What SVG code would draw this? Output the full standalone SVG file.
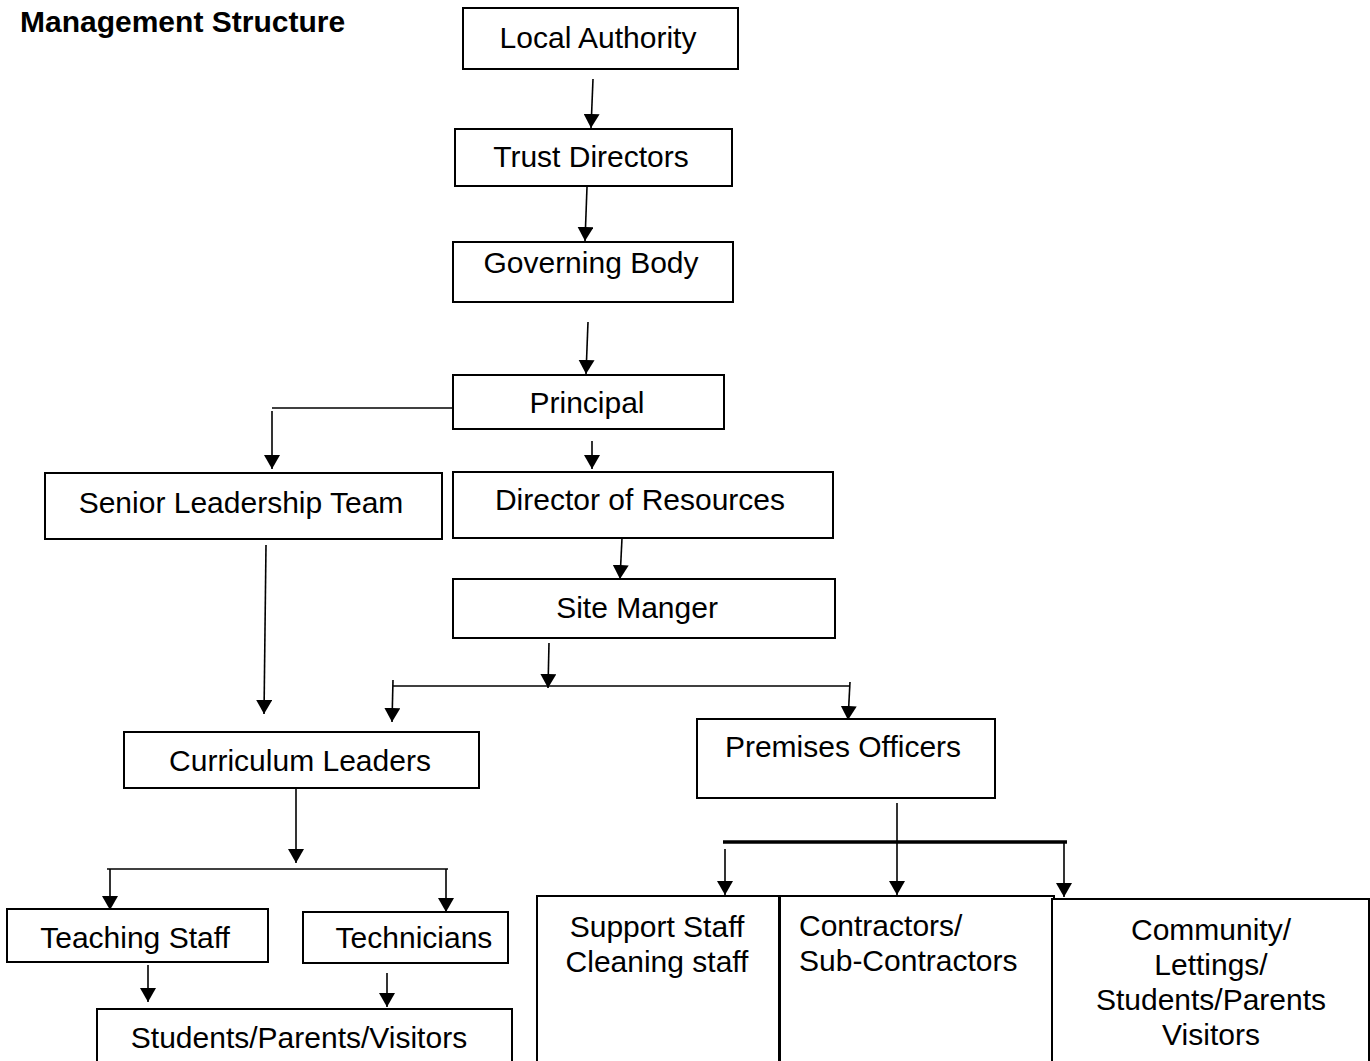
<svg xmlns="http://www.w3.org/2000/svg" width="1370" height="1061" viewBox="0 0 1370 1061">
<defs>
<marker id="ah" markerUnits="userSpaceOnUse" markerWidth="15" markerHeight="16" refX="14" refY="8" orient="auto">
<path d="M0,0 L14,8 L0,16 z" fill="#000"/>
</marker>
<style>
.box{fill:#fff;stroke:#000;stroke-width:2}
.t{font-family:"Liberation Sans",Arial,sans-serif;font-size:30px;fill:#000}
.c{text-anchor:middle}
.ln{fill:none;stroke:#000;stroke-width:1.6}
.ar{fill:none;stroke:#000;stroke-width:1.6;marker-end:url(#ah)}
</style>
</defs>
<rect width="1370" height="1061" fill="#fff"/>
<text x="20" y="32" style="font-family:'Liberation Sans',Arial,sans-serif;font-size:30px;font-weight:bold">Management Structure</text>
<g id="connectors">
<path class="ar" d="M593,79 L591,128"/>
<path class="ar" d="M587,187 L585,241"/>
<path class="ar" d="M588,322 L586,374"/>
<path class="ln" d="M453,408 L272,408"/>
<path class="ar" d="M272,411 L272,469"/>
<path class="ar" d="M592,441 L592,469"/>
<path class="ar" d="M622,538 L620,579"/>
<path class="ar" d="M266,545 L264,714"/>
<path class="ar" d="M549,643 L548,688"/>
<path class="ln" d="M393,686 L850,686"/>
<path class="ar" d="M393,680 L392,722"/>
<path class="ar" d="M850,682 L848,720"/>
<path class="ar" d="M897,803 L897,895"/>
<path class="ln" d="M723,842 L1067,842" style="stroke-width:3.5"/>
<path class="ar" d="M725,849 L725,895"/>
<path class="ar" d="M1064,842 L1064,897"/>
<path class="ar" d="M296,788 L296,863"/>
<path class="ln" d="M107,869 L448,869"/>
<path class="ar" d="M110,869 L110,910"/>
<path class="ar" d="M446,869 L446,912"/>
<path class="ar" d="M148,965 L148,1002"/>
<path class="ar" d="M387,973 L387,1007"/>
</g>
<g id="local-authority"><rect class="box" x="463" y="8" width="275" height="61"/><text class="t c" x="598" y="48">Local Authority</text></g>
<g id="trust-directors"><rect class="box" x="455" y="129" width="277" height="57"/><text class="t c" x="591" y="167">Trust Directors</text></g>
<g id="governing-body"><rect class="box" x="453" y="242" width="280" height="60"/><text class="t c" x="591" y="273">Governing Body</text></g>
<g id="principal"><rect class="box" x="453" y="375" width="271" height="54"/><text class="t c" x="587" y="413">Principal</text></g>
<g id="senior-leadership-team"><rect class="box" x="45" y="473" width="397" height="66"/><text class="t c" x="241" y="513">Senior Leadership Team</text></g>
<g id="director-of-resources"><rect class="box" x="453" y="472" width="380" height="66"/><text class="t c" x="640" y="510">Director of Resources</text></g>
<g id="site-manger"><rect class="box" x="453" y="579" width="382" height="59"/><text class="t c" x="637" y="618">Site Manger</text></g>
<g id="curriculum-leaders"><rect class="box" x="124" y="732" width="355" height="56"/><text class="t c" x="300" y="771">Curriculum Leaders</text></g>
<g id="premises-officers"><rect class="box" x="697" y="719" width="298" height="79"/><text class="t c" x="843" y="757">Premises Officers</text></g>
<g id="teaching-staff"><rect class="box" x="7" y="909" width="261" height="53"/><text class="t c" x="135" y="948">Teaching Staff</text></g>
<g id="technicians"><rect class="box" x="303" y="912" width="205" height="51"/><text class="t c" x="414" y="948">Technicians</text></g>
<g id="students-parents-visitors"><rect class="box" x="97" y="1009" width="415" height="70"/><text class="t c" x="299" y="1048">Students/Parents/Visitors</text></g>
<g id="support-staff"><rect class="box" x="537" y="896" width="242" height="175"/><text class="t c" x="657" y="937">Support Staff</text><text class="t c" x="657" y="972">Cleaning staff</text></g>
<g id="contractors"><rect class="box" x="780" y="896" width="274" height="175"/><text class="t" x="799" y="936">Contractors/</text><text class="t" x="799" y="971">Sub-Contractors</text></g>
<g id="community"><rect class="box" x="1052" y="899" width="317" height="175"/><text class="t c" x="1211" y="940">Community/</text><text class="t c" x="1211" y="975">Lettings/</text><text class="t c" x="1211" y="1010">Students/Parents</text><text class="t c" x="1211" y="1045">Visitors</text></g>
</svg>
